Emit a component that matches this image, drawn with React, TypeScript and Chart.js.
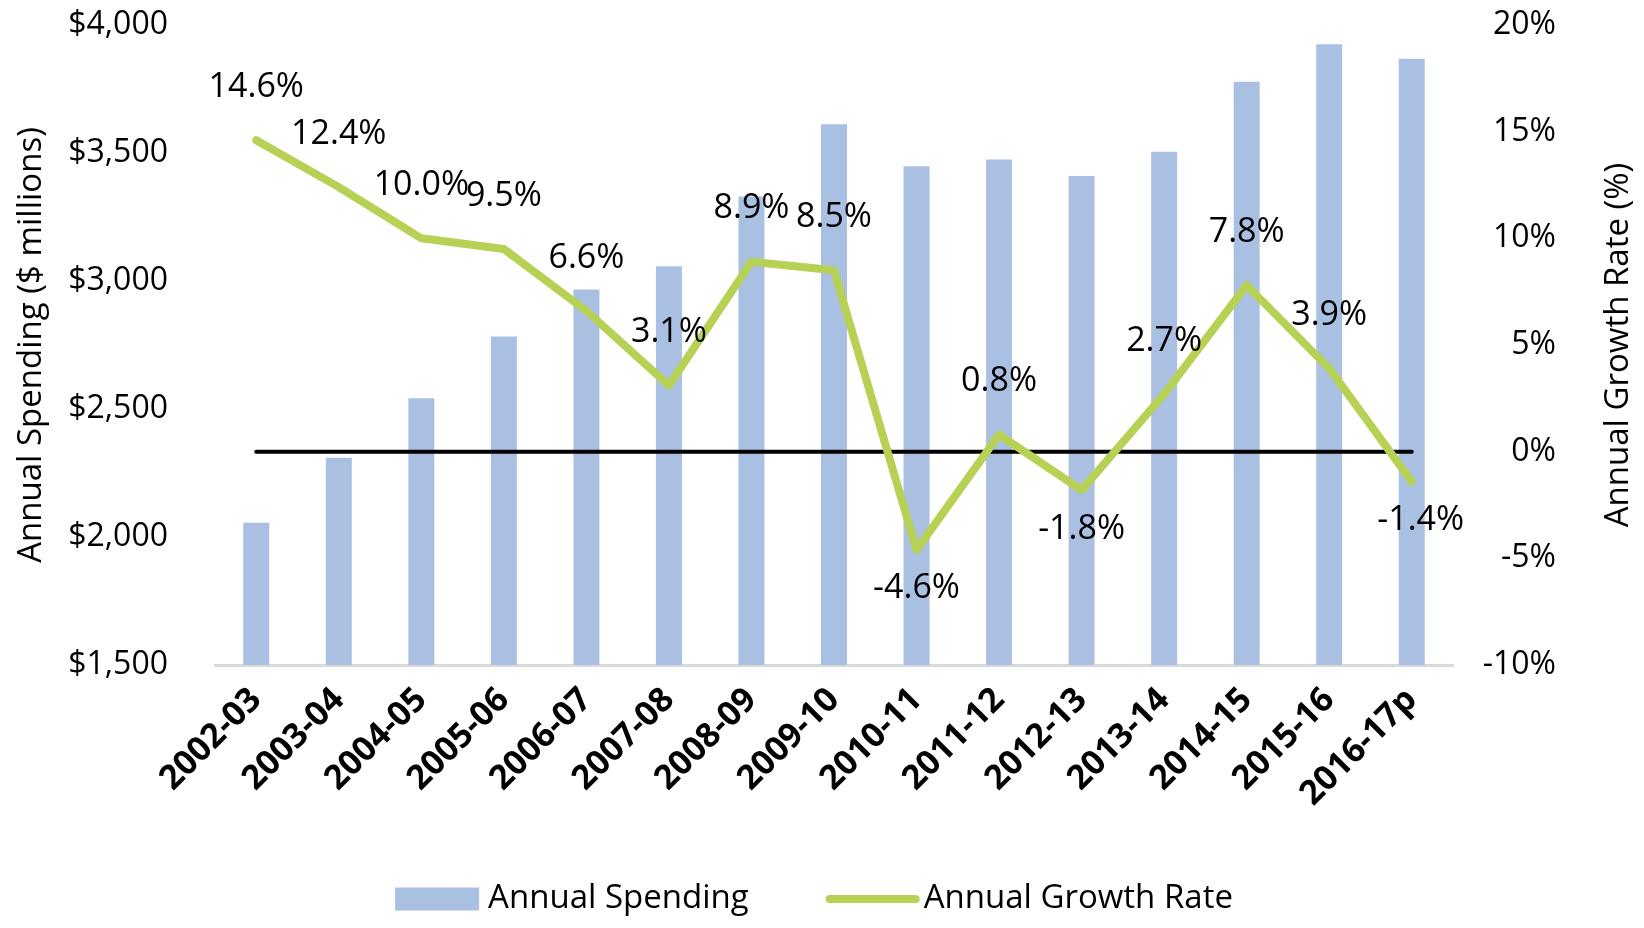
import { useEffect, useRef } from 'react';
import { Chart, registerables } from 'chart.js';

Chart.register(...registerables);

const years = [
  '2002-03', '2003-04', '2004-05', '2005-06', '2006-07', '2007-08', '2008-09', '2009-10',
  '2010-11', '2011-12', '2012-13', '2013-14', '2014-15', '2015-16', '2016-17p',
];
// $ millions
const spending = [2056, 2310, 2542, 2783, 2967, 3058, 3330, 3612, 3448, 3475, 3410, 3505, 3778, 3925, 3868];
// percent
const growth = [14.6, 12.4, 10.0, 9.5, 6.6, 3.1, 8.9, 8.5, -4.6, 0.8, -1.8, 2.7, 7.8, 3.9, -1.4];
const zeroLine = [0, 0, 0, 0, 0, 0, 0, 0, 0, 0, 0, 0, 0, 0, 0];

const spendingTicks = [1500, 2000, 2500, 3000, 3500, 4000];
const growthTicks = [-10, -5, 0, 5, 10, 15, 20];

const FONT = "'Open Sans', 'Noto Sans', sans-serif";
const BAR = '#A9C0E3';
const LINE = '#B7D155';
const RIGHT_TITLE = 'Annual Growth Rate (%)';

const growthLabels = {
  id: 'growthLabels',
  afterDatasetsDraw(chart: Chart) {
    const meta = chart.getDatasetMeta(2);
    const ctx = chart.ctx;
    const last = meta.data.length - 1;
    ctx.save();
    ctx.font = `34px ${FONT}`;
    ctx.fillStyle = '#000';
    ctx.textAlign = 'center';
    ctx.textBaseline = 'middle';
    meta.data.forEach((pt: any, i: number) => {
      const v = growth[i];
      const dy = v < 0 ? 39 : -53;
      const dx = i === last ? 9 : 0;
      ctx.fillText(`${v.toFixed(1)}%`, pt.x + dx, pt.y + dy);
    });
    ctx.restore();
  },
};

const extras = {
  id: 'extras',
  afterDraw(chart: Chart) {
    const ctx = chart.ctx;
    const area = chart.chartArea;
    ctx.save();
    // right axis title, reading bottom-to-top like the left one
    ctx.font = `33px ${FONT}`;
    ctx.fillStyle = '#000';
    ctx.textAlign = 'center';
    ctx.textBaseline = 'middle';
    ctx.translate(chart.width - 25, (area.top + area.bottom) / 2);
    ctx.rotate(-Math.PI / 2);
    ctx.fillText(RIGHT_TITLE, 0, 0);
    ctx.restore();

    // legend
    ctx.save();
    ctx.font = `33px ${FONT}`;
    ctx.textBaseline = 'middle';
    ctx.textAlign = 'left';
    const l1 = chart.data.datasets[0].label as string;
    const l2 = chart.data.datasets[2].label as string;
    const w1 = ctx.measureText(l1).width;
    const w2 = ctx.measureText(l2).width;
    const boxW = 84, boxH = 23, lineW = 94;
    const total = boxW + 9 + w1 + 77 + lineW + 4 + w2;
    let x = chart.width / 2 - 8 - total / 2;
    const y = 899;
    ctx.fillStyle = BAR;
    ctx.fillRect(x, y - boxH / 2, boxW, boxH);
    x += boxW + 9;
    ctx.fillStyle = '#000';
    ctx.fillText(l1, x, y);
    x += w1 + 77;
    ctx.strokeStyle = LINE;
    ctx.lineWidth = 8;
    ctx.lineCap = 'round';
    ctx.beginPath();
    ctx.moveTo(x + 4, y);
    ctx.lineTo(x + lineW - 4, y);
    ctx.stroke();
    x += lineW + 4;
    ctx.fillText(l2, x, y);
    ctx.restore();
  },
};

export default function App() {
  const ref = useRef<HTMLCanvasElement>(null);
  const chartRef = useRef<Chart | null>(null);

  useEffect(() => {
    if (!ref.current) return;
    document.body.style.margin = '0';

    chartRef.current?.destroy();
    chartRef.current = new Chart(ref.current, {
      type: 'bar',
      data: {
        labels: years,
        datasets: [
          {
            type: 'bar',
            label: 'Annual Spending',
            data: spending,
            backgroundColor: BAR,
            borderWidth: 0,
            barPercentage: 0.315,
            categoryPercentage: 1,
            yAxisID: 'y',
            order: 3,
          },
          {
            type: 'line',
            label: 'zero',
            data: zeroLine,
            borderColor: '#000',
            borderWidth: 4,
            borderCapStyle: 'round',
            pointRadius: 0,
            yAxisID: 'y1',
            order: 2,
          },
          {
            type: 'line',
            label: 'Annual Growth Rate',
            data: growth,
            borderColor: LINE,
            backgroundColor: LINE,
            borderWidth: 8,
            pointRadius: 0,
            tension: 0,
            borderJoinStyle: 'round',
            borderCapStyle: 'round',
            yAxisID: 'y1',
            order: 1,
          },
        ],
      },
      options: {
        responsive: true,
        maintainAspectRatio: false,
        animation: false,
        layout: { padding: { top: 0, left: 12, right: 88, bottom: 0 } },
        plugins: {
          legend: { display: false },
          tooltip: { enabled: false },
        },
        scales: {
          x: {
            grid: { display: false, drawTicks: false },
            border: { display: true, color: '#D9D9D9', width: 3 },
            ticks: {
              color: '#000',
              font: { family: FONT, size: 34, weight: 'bold' },
              minRotation: 45,
              maxRotation: 45,
              autoSkip: false,
              padding: 15,
            },
            afterFit: (axis: any) => { axis.height = 263; },
          },
          y: {
            position: 'left',
            min: spendingTicks[0],
            max: spendingTicks[spendingTicks.length - 1],
            afterBuildTicks: (axis: any) => { axis.ticks = spendingTicks.map((value) => ({ value })); },
            afterFit: (axis: any) => { axis.width = 203; axis.paddingTop = 25; axis.paddingBottom = 25; },
            grid: { display: false, drawTicks: false },
            border: { display: false },
            ticks: {
              color: '#000',
              font: { family: FONT, size: 32 },
              padding: 47,
              callback: (v: any) => '$' + Number(v).toLocaleString('en-US'),
            },
            title: {
              display: true,
              text: 'Annual Spending ($ millions)',
              color: '#000',
              font: { family: FONT, size: 33 },
              padding: { top: 0, bottom: 17 },
            },
          },
          y1: {
            position: 'right',
            min: growthTicks[0],
            max: growthTicks[growthTicks.length - 1],
            afterBuildTicks: (axis: any) => { axis.ticks = growthTicks.map((value) => ({ value })); },
            afterFit: (axis: any) => { axis.width = 103; axis.paddingTop = 25; axis.paddingBottom = 25; },
            grid: { display: false, drawTicks: false },
            border: { display: false },
            ticks: {
              color: '#000',
              font: { family: FONT, size: 32 },
              padding: 30,
              crossAlign: 'far',
              callback: (v: any) => v + '%',
            },
          },
        },
      },
      plugins: [growthLabels, extras],
    });
    return () => { chartRef.current?.destroy(); };
  }, []);

  return (
    <div style={{ width: '1644px', height: '928px', position: 'relative' }}>
      <canvas ref={ref} />
    </div>
  );
}
